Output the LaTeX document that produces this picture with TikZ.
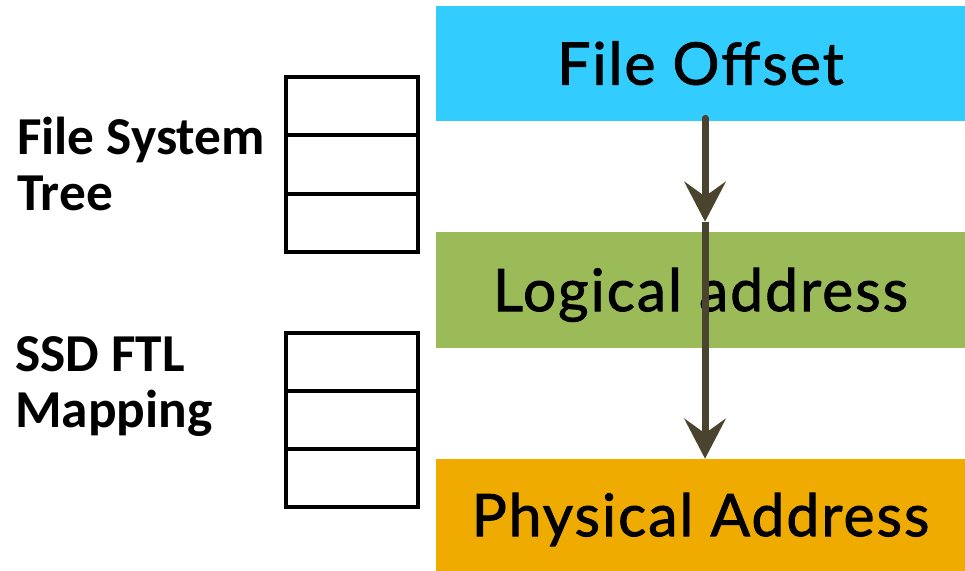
\documentclass[tikz,border=0pt]{standalone}
\usepackage{fontspec}
\setmainfont{Carlito}
\newfontfamily\boxfont[LetterSpace=3.5,FakeBold=1.5]{Lato}
\usetikzlibrary{positioning,calc,arrows.meta}

\definecolor{offsetblue}{HTML}{33CCFF}
\definecolor{logicgreen}{HTML}{9BBB59}
\definecolor{physorange}{HTML}{F0AB00}
\definecolor{arrowbrown}{HTML}{4A432E}

\tikzset{
  layer/.style={minimum width=396.75pt,inner sep=0pt,text height=31.7pt,text depth=0pt,
    font=\boxfont\fontsize{44}{48}\selectfont},
  cell/.style={draw,line width=3pt,minimum width=99pt,minimum height=43.7pt,inner sep=0pt},
  label/.style={anchor=west,align=left,inner sep=0pt,
    font=\bfseries\fontsize{40}{42}\selectfont},
  flow/.style={arrowbrown,line width=5.2pt,
    -{Stealth[length=30pt,width=31pt,inset=11pt]}}
}

\begin{document}
\begin{tikzpicture}[x=0.75pt,y=-0.75pt]
      \useasboundingbox (0,0) rectangle (965,571);

      \node[layer,fill=offsetblue,minimum height=86.25pt](fo) at (700.5,63.5){File Offset};
      \node[layer,fill=logicgreen,minimum height=87pt](la) at (700.5,290){Logical address};
      \node[layer,fill=physorange,minimum height=84pt](pa) at (700.5,515){Physical Address};

      % the two tables
      \foreach \i in {0,1,2}{
        \node[cell](fs\i) at (352,106.2+58.3*\i){};
        \node[cell](ftl\i) at (352,362+58*\i){};
      }

      \node[label](fst) at (17,164){File System\\Tree};
      \node[label](map) at (15,387){SSD FTL\\Mapping};

      \draw[flow,line cap=round] ([xshift=3.4pt,yshift=2.2pt]fo.south)
        -- ([xshift=3.4pt,yshift=7.5pt]la.north);
      \draw[flow] ([xshift=3.4pt,yshift=7.5pt]la.north) -- ([xshift=3.4pt]pa.north);
    \end{tikzpicture}
\end{document}
